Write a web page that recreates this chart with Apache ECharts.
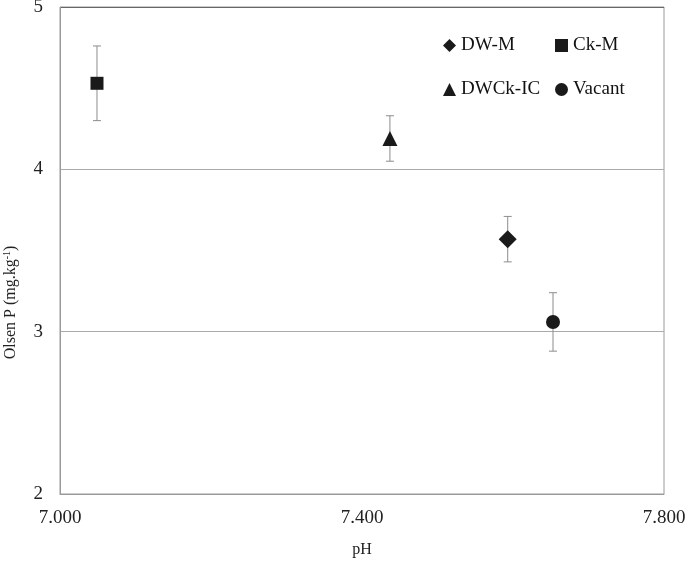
<!DOCTYPE html>
<html>
<head>
<meta charset="utf-8">
<script src="https://cdn.jsdelivr.net/npm/echarts@6/dist/echarts.min.js"></script>
<style>
  body { margin: 0; padding: 0; background: #fff; }
  #chart { width: 685px; height: 562px; }
</style>
</head>
<body>
<div id="chart"></div>
<script>
// treatments and their values
var treatments = ["DW-M", "Ck-M", "DWCk-IC", "Vacant"];
var symbols = ["diamond", "rect", "triangle", "circle"];
var symbolSizes = [18, 13, 15, 14];
var phValues = [7.593, 7.049, 7.437, 7.653];
var olsenP = [3.57, 4.53, 4.19, 3.06];
var errLow = [3.43, 4.30, 4.05, 2.88];
var errHigh = [3.71, 4.76, 4.33, 3.24];

// legend slots (2 x 2 like the original)
var legendLeft = [443, 555, 443, 555];
var legendTop = [36, 36, 80, 80];

var font = "Liberation Serif";
var markColor = "#1a1a1a";

var series = [];
treatments.forEach(function (name, i) {
  series.push({
    name: name,
    type: "scatter",
    symbol: symbols[i],
    symbolSize: symbolSizes[i],
    itemStyle: { color: markColor, opacity: 1 },
    z: 3,
    data: [[phValues[i], olsenP[i]]]
  });
});

// error bars
series.push({
  type: "custom",
  z: 2,
  silent: true,
  renderItem: function (params, api) {
    var x = api.value(0);
    var lo = api.coord([x, api.value(1)]);
    var hi = api.coord([x, api.value(2)]);
    var w = 4;
    var style = { stroke: "#8c8c8c", lineWidth: 1 };
    return {
      type: "group",
      children: [
        { type: "line", shape: { x1: lo[0], y1: lo[1], x2: hi[0], y2: hi[1] }, style: style },
        { type: "line", shape: { x1: lo[0] - w, y1: lo[1], x2: lo[0] + w, y2: lo[1] }, style: style },
        { type: "line", shape: { x1: hi[0] - w, y1: hi[1], x2: hi[0] + w, y2: hi[1] }, style: style }
      ]
    };
  },
  data: phValues.map(function (p, i) { return [p, errLow[i], errHigh[i]]; })
});

var legends = treatments.map(function (name, i) {
  return {
    left: legendLeft[i],
    top: legendTop[i],
    itemWidth: 13,
    itemHeight: 13,
    itemGap: 0,
    padding: 0,
    data: [{ name: name, itemStyle: { opacity: 1 } }],
    textStyle: { fontFamily: font, fontSize: 19, color: "#111" }
  };
});

var option = {
  animation: false,
  grid: {
    left: 60, right: 21, top: 7, bottom: 68,
    outerBoundsMode: "none",
    show: true, borderColor: "#9a9a9a", borderWidth: 1
  },
  legend: legends,
  xAxis: {
    type: "value",
    min: 7.0,
    max: 7.8,
    interval: 0.4,
    name: "pH",
    nameLocation: "middle",
    nameGap: 48,
    nameTextStyle: { fontFamily: font, fontSize: 16, color: "#222" },
    axisLine: { show: true, lineStyle: { color: "#9a9a9a" } },
    axisTick: { show: false },
    splitLine: { show: false },
    axisLabel: {
      fontFamily: font, fontSize: 19, color: "#222", margin: 15,
      formatter: function (v) { return v.toFixed(3); }
    }
  },
  yAxis: {
    type: "value",
    min: 2,
    max: 5,
    interval: 1,
    name: "Olsen P (mg.kg{sup|-1})",
    nameLocation: "middle",
    nameGap: 41,
    nameTextStyle: {
      fontFamily: font, fontSize: 16, color: "#222",
      padding: [0, 104, 0, 0],
      rich: { sup: { fontFamily: font, fontSize: 10, color: "#222", verticalAlign: "top", padding: [0, 0, 7, 0] } }
    },
    axisLine: { show: true, lineStyle: { color: "#9a9a9a" } },
    axisTick: { show: false },
    splitLine: { show: true, lineStyle: { color: ["#aaaaaa", "#aaaaaa", "#aaaaaa", "#666666"], width: 1 } },
    axisLabel: { fontFamily: font, fontSize: 19, color: "#222", margin: 17 }
  },
  series: series
};

var chart = echarts.init(document.getElementById("chart"));
chart.setOption(option);
</script>
</body>
</html>
